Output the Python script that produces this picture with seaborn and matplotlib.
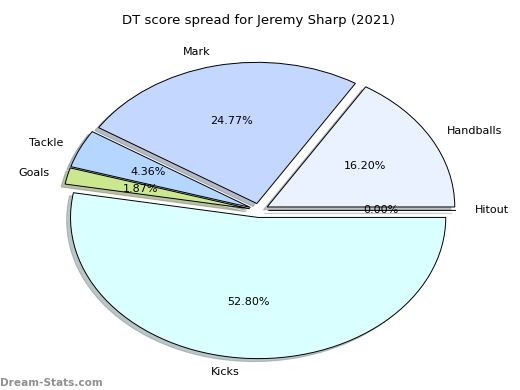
import matplotlib
matplotlib.use("Agg")
import matplotlib.pyplot as plt
import seaborn as sns

sns.set_style("white")
plt.rcParams['font.family'] = ['DejaVu Sans']
plt.rcParams['text.color'] = 'black'
plt.rcParams['axes.titlecolor'] = 'black'

# DT score components (share of total, %)
categories = ['Hitout', 'Handballs', 'Mark', 'Tackle', 'Goals', 'Kicks']
shares = [0.00, 16.20, 24.77, 4.36, 1.87, 52.80]
colors = ['#dfe8ff', '#eaf2ff', '#c4d8ff', '#b4d6ff', '#cbe88f', '#d9ffff']
explode = [0.05] * len(shares)

fig = plt.figure(figsize=(5.2, 3.9), dpi=100)
ax = fig.add_axes([0.047, 0.008, 0.902, 0.905])

ax.pie(shares, labels=categories, colors=colors, explode=explode,
       autopct='%1.2f%%', shadow={'ox': -0.015, 'oy': -0.015, 'shade': 0.45},
       startangle=0,
       wedgeprops={'edgecolor': 'black', 'linewidth': 0.7},
       textprops={'fontsize': 8, 'color': 'black'})
ax.set_aspect('auto')
ax.set_xlim(-1.25, 1.25)
ax.set_ylim(-1.25, 1.25)
ax.set_title('DT score spread for Jeremy Sharp (2021)', fontsize=9.5, pad=7)

fig.text(0.0, 0.006, 'Dream-Stats.com', fontsize=7.6, color='#909090',
         fontweight='semibold', ha='left', va='bottom')

plt.savefig("out.png", dpi=100)
